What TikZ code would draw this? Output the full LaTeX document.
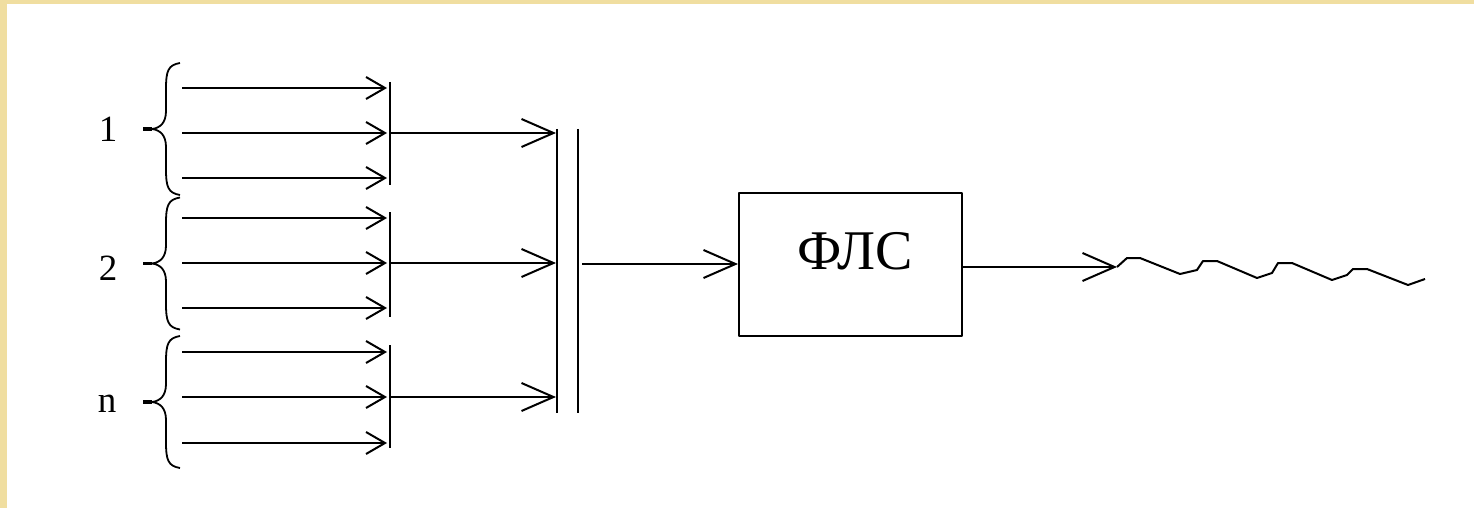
\documentclass[tikz,border=0pt]{standalone}
\usepackage{fontspec}
\setmainfont{Liberation Serif}
\usetikzlibrary{arrows.meta}
\definecolor{cream}{RGB}{240,222,160}
\begin{document}
\begin{tikzpicture}[x=1pt,y=-1pt,line width=2pt,line join=round,
  smallarr/.style={-{Straight Barb[length=19pt,width=22pt]}},
  bigarr/.style={-{Straight Barb[length=32pt,width=28pt]}},
  lbl/.style={font=\fontsize{37}{37}\selectfont,inner sep=0pt},
  bracepath/.style={line width=1.8pt},
  tipdash/.style={line width=3.5pt},
  box/.style={draw,rectangle,minimum width=223pt,minimum height=143pt,inner sep=0pt},
  boxtext/.style={font=\fontsize{56}{56}\selectfont,inner sep=0pt}]
\useasboundingbox (0,0) rectangle (1474,508);
\fill[white] (0,0) rectangle (1474,508);
\fill[cream] (0,0) rectangle (1474,4);
\fill[cream] (0,0) rectangle (7,508);

% group labels
\node[lbl] (l1) at (108,129) {1};
\node[lbl] (l2) at (108,268) {2};
\node[lbl] (ln) at (107,404) {n};

% braces
\foreach \yc/\nm in {129/b1,263.5/b2,402/bn}{
  \draw[bracepath] (180,\yc-66) .. controls (168,\yc-64) and (166,\yc-58) .. (166,\yc-40)
     -- (166,\yc-18) .. controls (166,\yc-6) and (160,\yc-1) .. (152,\yc)
     .. controls (160,\yc+1) and (166,\yc+6) .. (166,\yc+18)
     -- (166,\yc+40) .. controls (166,\yc+58) and (168,\yc+64) .. (180,\yc+66);
  \coordinate (\nm tip) at (152,\yc);
  \coordinate (\nm dash) at (143,\yc);
  \draw[tipdash] (\nm dash) -- (\nm tip);
}

% input arrows and collecting bars
\foreach \g/\ya/\yb/\yc/\ytop/\ybot in {1/88/133/178/82/185, 2/218/263/308/212/317, n/352/397/443/345/448}{
  \foreach \k/\y in {a/\ya,b/\yb,c/\yc}{
    \coordinate (s\g\k) at (182,\y);
    \coordinate (e\g\k) at (387,\y);
    \draw[smallarr] (s\g\k) -- (e\g\k);
  }
  \coordinate (bt\g) at (390,\ytop);
  \coordinate (bb\g) at (390,\ybot);
  \draw (bt\g) -- (bb\g);
  \coordinate (o\g) at (391,\yb);
  \coordinate (oe\g) at (556,\yb);
  \draw[bigarr] (o\g) -- (oe\g);
}

% double bar
\coordinate (d1t) at (557,129); \coordinate (d1b) at (557,413);
\coordinate (d2t) at (578,129); \coordinate (d2b) at (578,413);
\draw (d1t) -- (d1b);
\draw (d2t) -- (d2b);

% box
\node[box] (box) at (850.5,264) {};
\node[boxtext] (boxlbl) at (855,251) {ФЛС};
\coordinate (m0) at (582,264);
\draw[bigarr] (m0) -- (box.west);

% output
\coordinate (w0) at (1117,267);
\draw[bigarr] ([yshift=-3pt]box.east) -- (w0);
\draw (w0) -- (1127,258) -- (1140,258) -- (1180,274) -- (1197,270) -- (1203,261)
  -- (1217,261) -- (1257,278) -- (1272,273) -- (1278,263) -- (1292,263)
  -- (1332,280) -- (1347,275) -- (1353,269) -- (1367,269) -- (1408,285) -- (1425,279);
\end{tikzpicture}
\end{document}
